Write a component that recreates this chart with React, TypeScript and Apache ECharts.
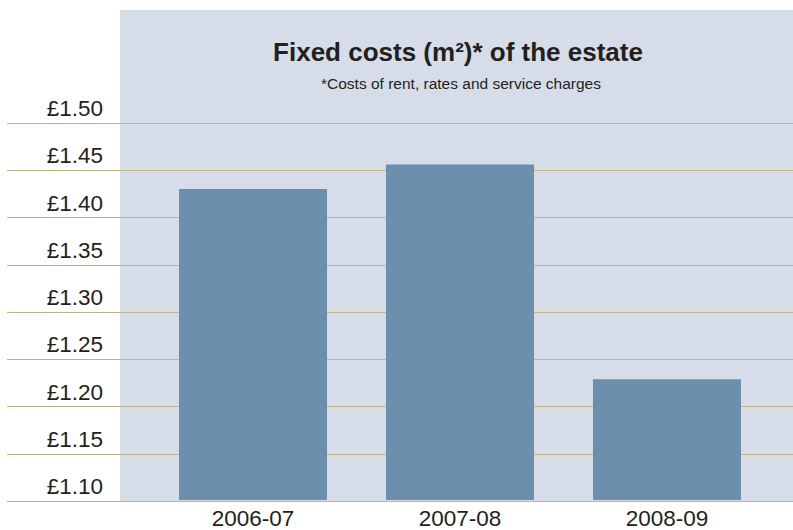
import React, { useEffect, useRef } from "react";
import * as echarts from "echarts";

const categories = ["2006-07", "2007-08", "2008-09"];
const costs = [1.43, 1.456, 1.228];
const yMin = 1.1;
const yMax = 1.5;
const yStep = 0.05;
const titleText = "Fixed costs (m²)* of the estate";
const subtitleText = "*Costs of rent, rates and service charges";

const FONT = "'Liberation Sans', Arial, sans-serif";
const TEXT = "#231f20";

export default function App() {
  const ref = useRef<HTMLDivElement>(null);
  useEffect(() => {
    if (!ref.current) return;
    const chart = echarts.init(ref.current, undefined, { renderer: "svg" });
    chart.setOption({
      animation: false,
      backgroundColor: "#ffffff",
      graphic: [
        {
          type: "rect",
          z: -10,
          silent: true,
          shape: { x: 120, y: 10, width: 673, height: 491 },
          style: { fill: "#d6dde8" },
        },
      ],
      title: [
        {
          text: titleText,
          left: 458,
          top: 39,
          textAlign: "center",
          padding: 0,
          textStyle: { fontFamily: FONT, fontWeight: "bold", fontSize: 26, color: TEXT },
        },
        {
          text: subtitleText,
          left: 461,
          top: 75,
          textAlign: "center",
          padding: 0,
          textStyle: { fontFamily: FONT, fontWeight: "normal", fontSize: 15.5, color: TEXT },
        },
      ],
      grid: [
        { left: 7, right: 0, top: 123, bottom: 29, containLabel: false },
        { left: 149.5, right: 22.5, top: 123, bottom: 29, containLabel: false },
      ],
      xAxis: [
        { type: "value", gridIndex: 0, show: false, min: 0, max: 1 },
        {
          type: "category",
          gridIndex: 1,
          data: categories,
          axisLine: { show: false },
          axisTick: { show: false },
          axisLabel: { margin: 7, fontFamily: FONT, fontSize: 22.5, color: TEXT },
        },
      ],
      yAxis: [
        {
          type: "value",
          gridIndex: 0,
          min: yMin,
          max: yMax,
          interval: yStep,
          axisLine: { show: false },
          axisTick: { show: false },
          splitLine: {
            show: true,
            showMinLine: true,
            showMaxLine: true,
            lineStyle: { color: "#c5b387", width: 1.2 },
          },
          axisLabel: {
            margin: -96,
            align: "right",
            verticalAlign: "bottom",
            padding: [0, 0, 3, 0],
            fontFamily: FONT,
            fontSize: 22.5,
            color: TEXT,
            showMinLabel: true,
            showMaxLabel: true,
            formatter: (v: number) => "£" + v.toFixed(2),
          },
        },
        {
          type: "value",
          gridIndex: 1,
          min: yMin,
          max: yMax,
          interval: yStep,
          show: false,
          splitLine: { show: false },
        },
      ],
      series: [
        {
          type: "bar",
          xAxisIndex: 1,
          yAxisIndex: 1,
          data: costs,
          barWidth: 148,
          itemStyle: { color: "#6b8fad" },
        },
      ],
    });
    return () => chart.dispose();
  }, []);
  return <div ref={ref} style={{ width: 793, height: 530, position: "absolute", left: 0, top: 0 }} />;
}
